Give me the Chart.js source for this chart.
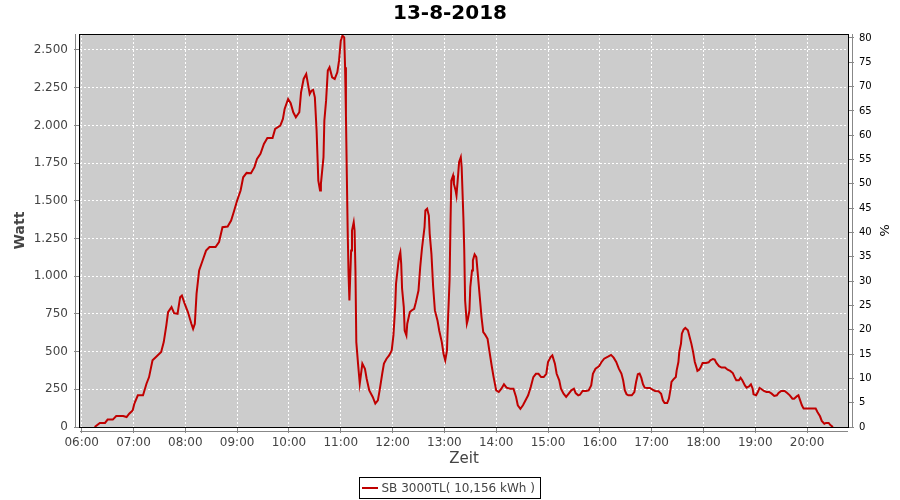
<!DOCTYPE html>
<html>
<head>
<meta charset="utf-8">
<script src="https://cdn.jsdelivr.net/npm/chart.js@4.4.0/dist/chart.umd.min.js"></script>
<style>
  html, body { margin: 0; padding: 0; background: #fff; }
</style>
</head>
<body>
<canvas id="chart" width="900" height="500"></canvas>
<script>
const times = [
  '06:15','06:21','06:27','06:30','06:36','06:40','06:48','06:52','06:55','06:59',
  '07:01','07:05','07:11','07:15','07:18','07:22','07:26','07:32','07:35','07:38',
  '07:40','07:44','07:47','07:51','07:54','07:56','07:59','08:03','08:07','08:09',
  '08:11','08:13','08:16','08:20','08:24','08:28','08:35','08:39','08:43','08:49',
  '08:53','08:56','09:00','09:04','09:07','09:11','09:16','09:20','09:23','09:27',
  '09:31','09:35','09:41','09:44','09:50','09:53','09:55','09:59','10:02','10:05',
  '10:08','10:12','10:14','10:17','10:20','10:22','10:24','10:26','10:28','10:30',
  '10:32','10:34','10:36','10:37','10:40','10:41','10:43','10:45','10:47','10:50',
  '10:53','10:56','10:58','11:00','11:02','11:04','11:05','11:06','11:07','11:08',
  '11:09','11:10','11:12','11:13','11:15','11:16','11:17','11:18','11:20','11:22',
  '11:23','11:25','11:28','11:30','11:33','11:37','11:40','11:43','11:45','11:48',
  '11:50','11:53','11:56','11:59','12:01','12:03','12:04','12:07','12:08','12:09',
  '12:10','12:11','12:13','12:14','12:16','12:17','12:20','12:22','12:25','12:27',
  '12:30','12:32','12:34','12:37','12:38','12:40','12:42','12:43','12:45','12:47',
  '12:49','12:52','12:54','12:57','12:59','13:01','13:03','13:04','13:06','13:07',
  '13:08','13:10','13:11','13:13','13:14','13:16','13:17','13:19','13:20','13:22',
  '13:23','13:24','13:26','13:27','13:29','13:30','13:32','13:33','13:35','13:37',
  '13:39','13:41','13:43','13:45','13:47','13:50','13:52','13:55','13:57','14:00',
  '14:03','14:06','14:09','14:12','14:16','14:20','14:23','14:25','14:28','14:31',
  '14:34','14:37','14:40','14:43','14:46','14:49','14:52','14:55','14:58','15:00',
  '15:03','15:05','15:08','15:10','15:13','15:15','15:18','15:21','15:24','15:27',
  '15:30','15:32','15:35','15:37','15:40','15:44','15:47','15:50','15:52','15:55',
  '15:59','16:02','16:05','16:10','16:13','16:16','16:19','16:22','16:25','16:27',
  '16:29','16:31','16:33','16:37','16:40','16:42','16:44','16:46','16:48','16:50',
  '16:52','16:55','16:58','17:01','17:04','17:08','17:11','17:13','17:15','17:18',
  '17:20','17:22','17:23','17:25','17:28','17:29','17:31','17:32','17:34','17:35',
  '17:37','17:39','17:42','17:44','17:46','17:48','17:50','17:52','17:53','17:55',
  '17:57','17:59','18:03','18:06','18:08','18:11','18:13','18:15','18:18','18:21',
  '18:25','18:28','18:31','18:34','18:36','18:38','18:41','18:43','18:45','18:48',
  '18:50','18:53','18:55','18:57','18:58','19:01','19:03','19:05','19:07','19:10',
  '19:13','19:16','19:19','19:22','19:25','19:27','19:30','19:34','19:37','19:40',
  '19:43','19:45','19:48','19:50','19:52','19:54','19:56','20:01','20:06','20:10',
  '20:12','20:15','20:17','20:20','20:22','20:25','20:27','20:30'
];

const watt = [
  0, 27, 27, 49, 49, 73, 73, 66, 88, 110,
  155, 210, 210, 287, 331, 442, 464, 497, 563, 674,
  762, 795, 755, 751, 861, 872, 822, 762, 685, 651,
  685, 884, 1038, 1104, 1170, 1193, 1193, 1226, 1325, 1329,
  1369, 1424, 1502, 1568, 1656, 1685, 1683, 1723, 1778, 1811,
  1877, 1917, 1917, 1977, 1999, 2043, 2109, 2175, 2147, 2087,
  2054, 2087, 2219, 2308, 2341, 2275, 2208, 2230, 2235, 2186,
  1966, 1634, 1568, 1612, 1789, 2032, 2164, 2363, 2385, 2319,
  2308, 2352, 2429, 2562, 2595, 2584, 2385, 2065, 1678, 1303,
  1016, 839, 1170, 1303, 1358, 1303, 1038, 563, 420, 287,
  331, 420, 386, 320, 243, 199, 155, 177, 243, 353,
  420, 453, 475, 508, 607, 795, 950, 1104, 1137, 1159,
  1082, 917, 795, 640, 607, 685, 762, 773, 784, 828,
  905, 1060, 1182, 1325, 1436, 1447, 1402, 1281, 1148, 928,
  773, 707, 640, 563, 486, 442, 508, 685, 972, 1325,
  1634, 1667, 1612, 1568, 1535, 1678, 1756, 1789, 1723, 1391,
  1170, 839, 685, 707, 773, 928, 1038, 1104, 1144, 1126,
  994, 861, 729, 629, 614, 585, 508, 398, 331, 243,
  232, 254, 283, 261, 254, 254, 199, 144, 121, 144,
  177, 210, 265, 331, 353, 353, 331, 331, 353, 431,
  464, 475, 420, 353, 309, 254, 221, 199, 221, 243,
  254, 225, 210, 214, 239, 239, 243, 276, 353, 386,
  402, 431, 453, 468, 478, 460, 431, 387, 354, 310,
  243, 217, 210, 210, 232, 299, 350, 354, 327, 283,
  261, 259, 259, 248, 239, 237, 221, 177, 159, 159,
  188, 254, 299, 314, 332, 376, 431, 498, 553, 619,
  646, 657, 641, 597, 553, 498, 431, 394, 372, 380,
  398, 425, 425, 429, 442, 451, 447, 425, 403, 394,
  394, 380, 372, 358, 332, 310, 310, 327, 310, 276,
  261, 270, 283, 254, 217, 210, 232, 259, 252, 239,
  232, 232, 221, 206, 210, 226, 239, 239, 226, 210,
  188, 188, 203, 210, 177, 144, 122, 122, 122, 122,
  100, 71, 40, 22, 27, 27, 13, 0
];

const hourTicks = [6, 7, 8, 9, 10, 11, 12, 13, 14, 15, 16, 17, 18, 19, 20];
const seriesLabel = 'SB 3000TL( 10,156 kWh )';
const chartTitle = '13-8-2018';

function toHours(t) {
  const p = t.split(':');
  return Number(p[0]) + Number(p[1]) / 60;
}

function fmtWatt(v) {
  if (v < 1000) return String(v);
  return Math.floor(v / 1000) + '.' + String(v % 1000).padStart(3, '0');
}

const points = times.map((t, i) => ({ x: toHours(t), y: watt[i] }));

const FONT = 'DejaVu Sans';

// grauer Plot-Hintergrund, Rahmen und abgesetzte Achsenlinien
const plotFrame = {
  id: 'plotFrame',
  beforeDraw(chart) {
    const { ctx, chartArea: a } = chart;
    ctx.save();
    ctx.fillStyle = '#cccccc';
    ctx.fillRect(a.left, a.top, a.right - a.left, a.bottom - a.top);
    ctx.restore();
  },
  afterDraw(chart) {
    const { ctx, chartArea: a } = chart;
    ctx.save();
    ctx.strokeStyle = '#000';
    ctx.lineWidth = 1;
    ctx.strokeRect(a.left - 0.5, a.top + 0.5, a.right - a.left + 1, a.bottom - a.top);
    ctx.strokeStyle = '#888';
    ctx.beginPath();
    ctx.moveTo(a.left - 4.5, a.top);
    ctx.lineTo(a.left - 4.5, a.bottom);
    ctx.moveTo(a.right + 4.5, a.top);
    ctx.lineTo(a.right + 4.5, a.bottom);
    ctx.moveTo(a.left, a.bottom + 4.5);
    ctx.lineTo(a.right, a.bottom + 4.5);
    ctx.stroke();

    // Legende mit Rahmen
    ctx.font = '12px ' + FONT;
    const tw = ctx.measureText(seriesLabel).width;
    const boxW = 3 + 16 + 5 + tw + 4;
    const bx = Math.round(450 - boxW / 2) + 0.5;
    const by = 477.5;
    ctx.strokeStyle = '#000';
    ctx.strokeRect(bx, by, Math.round(boxW), 21);
    ctx.strokeStyle = '#c00000';
    ctx.lineWidth = 2;
    ctx.beginPath();
    ctx.moveTo(bx + 2.5, 488);
    ctx.lineTo(bx + 18.5, 488);
    ctx.stroke();
    ctx.fillStyle = '#444';
    ctx.textBaseline = 'middle';
    ctx.textAlign = 'left';
    ctx.fillText(seriesLabel, bx + 22, 488.5);
    ctx.restore();
  }
};

const config = {
  type: 'line',
  data: {
    datasets: [{
      label: seriesLabel,
      data: points,
      borderColor: '#c00000',
      backgroundColor: '#c00000',
      borderWidth: 2,
      pointRadius: 0,
      tension: 0,
      fill: false,
      yAxisID: 'y'
    }]
  },
  plugins: [plotFrame],
  options: {
    responsive: false,
    animation: false,
    layout: { padding: { left: 0, right: 0, top: 0, bottom: 25 } },
    plugins: {
      legend: { display: false },
      tooltip: { enabled: false },
      title: {
        display: true,
        text: chartTitle,
        color: '#000',
        font: { family: FONT, size: 20, weight: 'bold' },
        padding: { top: 2, bottom: 8 }
      }
    },
    scales: {
      x: {
        type: 'linear',
        min: 5.967,
        max: 20.79,
        afterBuildTicks: (scale) => { scale.ticks = hourTicks.map(v => ({ value: v })); },
        afterFit: (scale) => { scale.height = 48; },
        ticks: {
          autoSkip: false,
          maxRotation: 0,
          padding: 3,
          color: '#444',
          font: { family: FONT, size: 12 },
          callback: (v) => String(v).padStart(2, '0') + ':00'
        },
        grid: { color: '#ffffff', lineWidth: 1, tickLength: 6, tickColor: '#888', tickBorderDash: [] },
        border: { display: false, dash: [2, 2] },
        title: {
          display: true,
          text: 'Zeit',
          color: '#444',
          font: { family: FONT, size: 15 },
          padding: { top: 0, bottom: 7 }
        }
      },
      y: {
        position: 'left',
        min: 0,
        max: 2606,
        afterFit: (scale) => { scale.width = 80; },
        ticks: {
          stepSize: 250,
          includeBounds: false,
          padding: 6,
          color: '#444',
          font: { family: FONT, size: 12 },
          callback: (v) => fmtWatt(v)
        },
        grid: { color: '#ffffff', lineWidth: 1, tickLength: 6, tickColor: '#888', tickBorderDash: [] },
        border: { display: false, dash: [2, 2] },
        title: {
          display: true,
          text: 'Watt',
          color: '#444',
          font: { family: FONT, size: 14, weight: 'bold' },
          padding: { top: 12, bottom: 0 }
        }
      },
      y1: {
        position: 'right',
        min: 0,
        max: 80.82,
        afterFit: (scale) => { scale.width = 52; },
        ticks: {
          stepSize: 5,
          includeBounds: false,
          padding: 5,
          color: '#000',
          font: { family: FONT, size: 10 }
        },
        grid: { drawOnChartArea: false, tickLength: 6, tickColor: '#888' },
        border: { display: false },
        title: {
          display: true,
          text: '%',
          color: '#000',
          font: { family: FONT, size: 13 },
          padding: { top: 9, bottom: 0 }
        }
      }
    }
  }
};

new Chart(document.getElementById('chart'), config);
</script>
</body>
</html>
